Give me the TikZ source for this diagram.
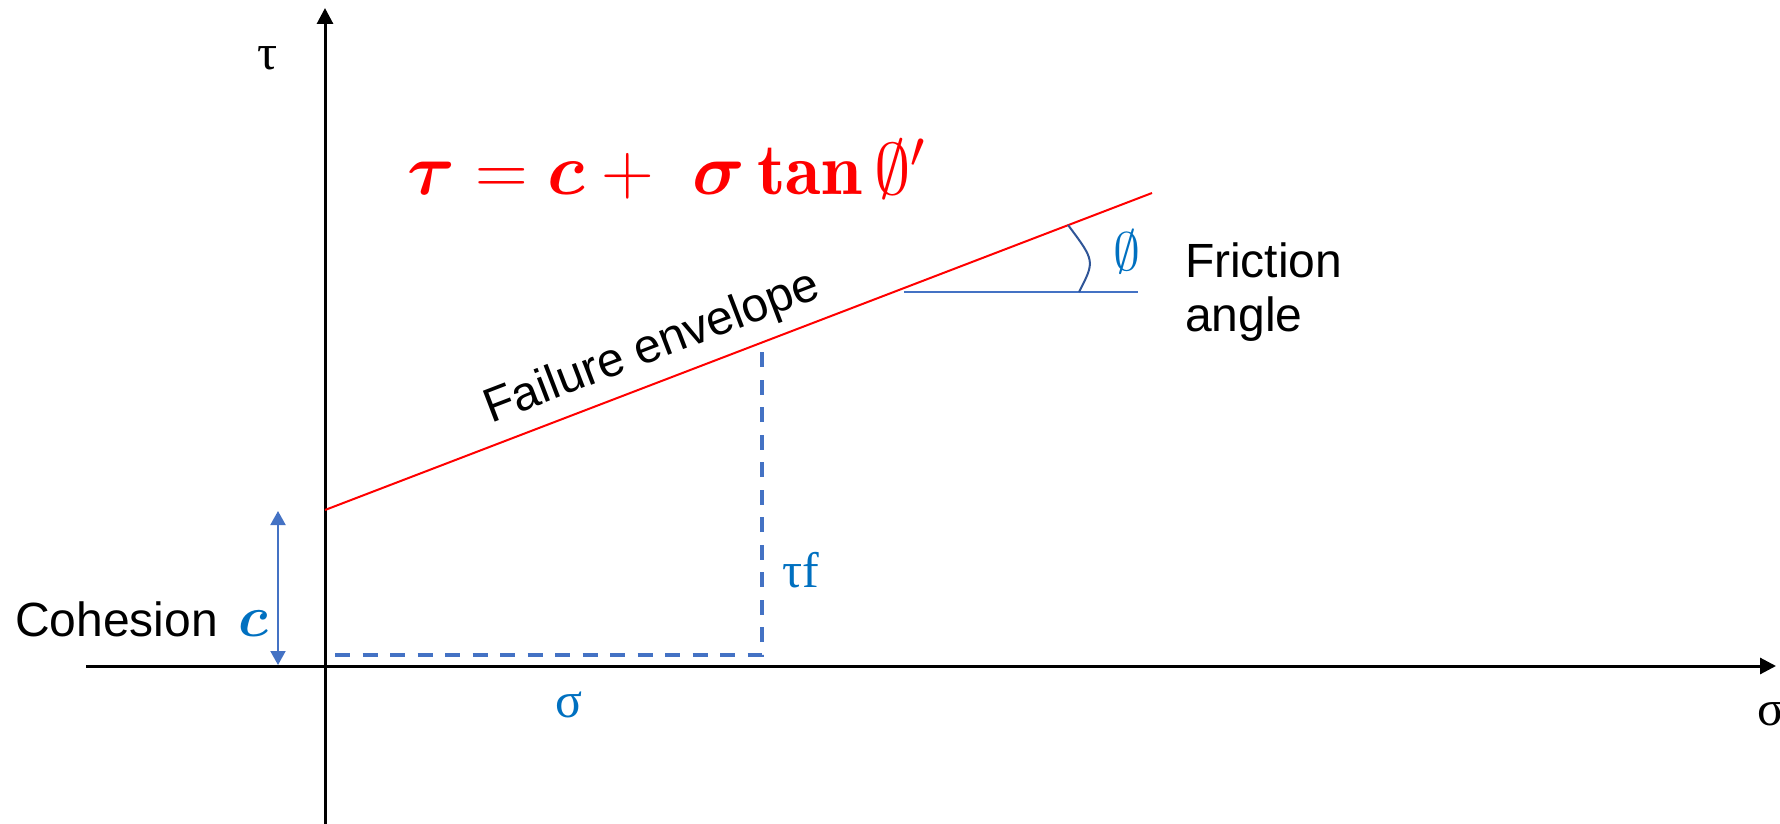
\RequirePackage{fix-cm}
\documentclass[tikz,border=0pt]{standalone}
\usepackage{amsmath,amssymb,bm}
\usepackage{fontspec}
\newfontfamily\arial{Liberation Sans}
\newfontfamily\timesgr{Liberation Serif}
\usetikzlibrary{arrows.meta}
\definecolor{lineblue}{HTML}{4472C4}
\definecolor{textblue}{HTML}{0070C0}
\definecolor{arcblue}{HTML}{2F5597}
\begin{document}
\begin{tikzpicture}[x=1pt,y=-1pt,
  axis/.style={line width=3pt,black},
  envelope/.style={line width=2pt,red},
  guide/.style={line width=4pt,lineblue,dash pattern=on 15pt off 12.5pt},
  lbl/.style={inner sep=0pt,outer sep=0pt},
  sanslbl/.style={lbl,font=\arial\fontsize{48}{54}\selectfont},
  greeklbl/.style={lbl,font=\timesgr\fontsize{50}{56}\selectfont}]
\useasboundingbox (0,0) rectangle (1780,824);
% coordinates
\coordinate (ybot) at (325,824);
\coordinate (ytop) at (325,8);
\coordinate (xleft) at (86,666);
\coordinate (xright) at (1776,666);
\coordinate (c0) at (325,510);
\coordinate (c1) at (1152,193);
\coordinate (coh0) at (278,665);
\coordinate (coh1) at (278,511);
\coordinate (d0) at (335,655);
\coordinate (d1) at (762,655);
\coordinate (d2) at (762,352);
\coordinate (h0) at (904,292);
\coordinate (h1) at (1138,292);
\coordinate (a0) at (1079,292);
\coordinate (a1) at (1068,225);
% axes
\draw[axis,-{Triangle[length=16pt,width=16pt]}] (ybot) -- (ytop);
\draw[axis,-{Triangle[length=16pt,width=16pt]}] (xleft) -- (xright);
% failure envelope
\draw[envelope] (c0) -- (c1);
% cohesion arrow
\draw[line width=2pt,lineblue,{Triangle[length=14pt,width=15pt]}-{Triangle[length=14pt,width=15pt]}] (coh1) -- (coh0);
% dashed guides
\draw[guide] (d0) -- (d1) -- (d2);
% angle
\draw[line width=2pt,lineblue] (h0) -- (h1);
\draw[line width=2pt,arcblue] (a0) .. controls (1095,261) .. (a1);
% labels
\node[greeklbl,anchor=base west] (tau) at (257,70) {τ};
\node[greeklbl,anchor=base west] (sig) at (1757,725) {σ};
\node[greeklbl,anchor=center,text=textblue] (sigb) at (569,705) {σ};
\node[greeklbl,anchor=base west,text=textblue] (tauf) at (782,587) {τf};
\node[sanslbl,anchor=base west] (coh) at (15,636) {Cohesion};
\node[lbl,anchor=base west,text=textblue,font=\fontsize{58}{64}\selectfont] (cc) at (238,636) {$\bm{c}$};
\node[sanslbl,anchor=base,rotate=20.97] (fe) at (657,360) {Failure envelope};
\node[sanslbl,anchor=base west] (fr) at (1185,277) {Friction};
\node[sanslbl,anchor=base west] (an) at (1185,331) {angle};
\node[lbl,anchor=center,text=textblue,font=\fontsize{54}{60}\selectfont] (phi) at (1127,252) {$\emptyset$};
\node[lbl,anchor=base west,text=red,font=\fontsize{73}{80}\selectfont] (eq) at (407,194) {$\bm{\tau}=\bm{c}+\ \bm{\sigma}\,\mathbf{tan}\,\emptyset'$};
\end{tikzpicture}
\end{document}
